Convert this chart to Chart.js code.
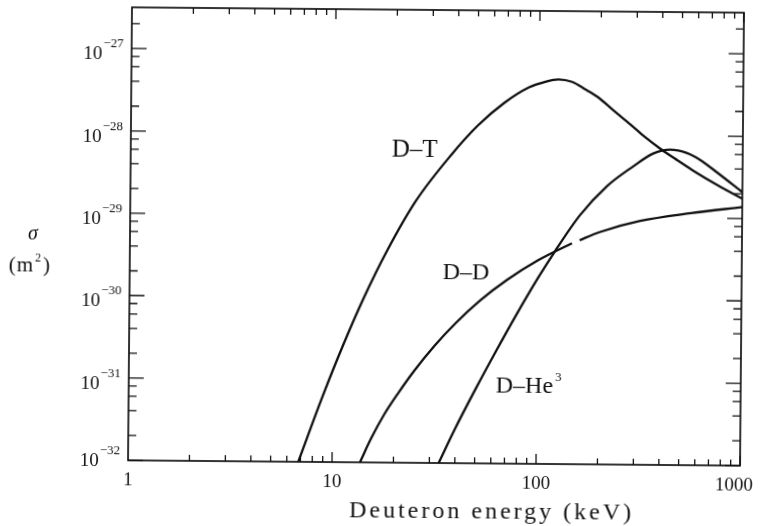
<!DOCTYPE html>
<html>
<head>
<meta charset="utf-8">
<script src="https://cdn.jsdelivr.net/npm/chart.js@4"></script>
<style>
  html, body { margin: 0; padding: 0; background: #fff; }
  /* the printed figure sits a touch off square */
  #wrap { width: 764px; height: 526px; transform: rotate(0.5deg); transform-origin: 436px 237px; }
</style>
</head>
<body>
<div id="wrap"><canvas id="c" width="764" height="526"></canvas></div>
<script>
// deuteron energy (keV) and cross-section (m^2)
const energyDT = [6.83, 8.91, 11.2, 14.1, 18.3, 25.1, 37.2, 50.1, 67.5, 89.1, 107, 124, 145, 166, 194, 234, 281, 331, 394, 479, 570, 759, 1000];
const sigmaDT = [1.0e-32, 6.17e-32, 2.63e-31, 1.0e-30, 3.8e-30, 1.51e-29, 5.5e-29, 1.26e-28, 2.4e-28, 3.72e-28, 4.37e-28, 4.68e-28, 4.37e-28, 3.63e-28, 2.88e-28, 1.95e-28, 1.35e-28, 9.55e-29, 6.92e-29, 5.01e-29, 3.8e-29, 2.51e-29, 1.74e-29];

const energyDD = [13.7, 15.5, 17.8, 20.9, 25.1, 31.6, 39.8, 52.5, 70.8, 100, 141, 147, 160, 200, 316, 562, 1000];
const sigmaDD = [1.0e-32, 1.95e-32, 3.72e-32, 6.92e-32, 1.32e-31, 2.69e-31, 5.01e-31, 9.55e-31, 1.7e-30, 2.95e-30, 4.57e-30, 4.79e-30, 5.25e-30, 6.61e-30, 9.12e-30, 1.15e-29, 1.38e-29];
const gapDD = 11; // short break in the D-D line just past the crossing

const energyDHe3 = [33.3, 39.8, 50.1, 63.1, 79.4, 100, 121, 160, 217, 290, 364, 441, 533, 617, 747, 1000];
const sigmaDHe3 = [1.0e-32, 2.57e-32, 7.94e-32, 2.34e-31, 6.61e-31, 1.78e-30, 3.8e-30, 1.05e-29, 2.4e-29, 4.17e-29, 6.03e-29, 6.76e-29, 6.17e-29, 5.13e-29, 3.63e-29, 2.09e-29];

const xTickValues = [1, 10, 100, 1000];
const xTickLabels = ["1", "10", "100", "1000"];
const yExponents = [-32, -31, -30, -29, -28, -27];

const INK = "#111";
const SERIF = '"Liberation Serif", "DejaVu Serif", serif';

const pts = (xs, ys) => xs.map((x, i) => ({ x, y: ys[i] }));
const line = (data, extra = {}) => ({
  data, borderColor: INK, borderWidth: 2.3, pointRadius: 0,
  cubicInterpolationMode: "monotone", fill: false, ...extra,
});

// frame, inward ticks and all the typeset text
const paper = {
  id: "paper",
  afterDatasetsDraw(chart) {
    const { ctx, chartArea: a, scales: { x, y } } = chart;
    ctx.save();
    ctx.strokeStyle = INK;
    ctx.fillStyle = INK;
    ctx.lineWidth = 1.7;
    ctx.strokeRect(a.left, a.top, a.right - a.left, a.bottom - a.top);

    ctx.lineWidth = 1.3;
    ctx.beginPath();
    for (const e of yExponents) {
      for (let m = 1; m < 10; m += m === 1 ? 1 : 2) {
        const v = m * 10 ** e;
        if (v > y.max) break;
        const py = y.getPixelForValue(v);
        const len = m === 1 ? 15 : 8;
        ctx.moveTo(a.left, py); ctx.lineTo(a.left + len, py);
        ctx.moveTo(a.right, py); ctx.lineTo(a.right - len, py);
      }
    }
    for (let d = 0; d < 3; d++) {
      for (let m = 2; m <= 10; m++) {
        const px = x.getPixelForValue(m * 10 ** d);
        const len = m === 10 ? 10 : 6;
        ctx.moveTo(px, a.bottom); ctx.lineTo(px, a.bottom - len);
        ctx.moveTo(px, a.top); ctx.lineTo(px, a.top + len);
      }
    }
    ctx.stroke();

    // y tick labels: 10 with a raised exponent
    ctx.textBaseline = "alphabetic";
    ctx.textAlign = "left";
    for (const e of yExponents) {
      const py = y.getPixelForValue(10 ** e);
      const base = e === -32 ? py + 6 : py + 11;
      const sup = "\u2212" + String(-e);
      ctx.font = `13px ${SERIF}`;
      const sw = ctx.measureText(sup).width;
      ctx.font = `19px ${SERIF}`;
      const bw = ctx.measureText("10").width;
      const right = a.left - 8;
      ctx.fillText("10", right - sw - bw - 1, base);
      ctx.font = `13px ${SERIF}`;
      ctx.fillText(sup, right - sw, base - 12);
    }

    // x tick labels
    ctx.font = `19px ${SERIF}`;
    ctx.textAlign = "center";
    xTickValues.forEach((v, i) => {
      const px = x.getPixelForValue(v) - (v === 1000 ? 6 : 0);
      ctx.fillText(xTickLabels[i], px, a.bottom + 25);
    });

    // axis titles
    ctx.font = `24px ${SERIF}`;
    ctx.letterSpacing = "3px";
    ctx.fillText("Deuteron energy (keV)", 494, 518);
    ctx.letterSpacing = "0px";

    ctx.font = `italic 20px ${SERIF}`;
    ctx.fillText("\u03c3", 33, 243);
    ctx.font = `21px ${SERIF}`;
    ctx.textAlign = "left";
    ctx.letterSpacing = "1px";
    ctx.fillText("(m", 9, 275);
    const mw = ctx.measureText("(m").width;
    ctx.font = `12px ${SERIF}`;
    ctx.fillText("2", 9 + mw + 1, 265);
    ctx.font = `21px ${SERIF}`;
    ctx.fillText(")", 9 + mw + 9, 275);
    ctx.letterSpacing = "0px";

    // curve names
    ctx.font = `25px ${SERIF}`;
    ctx.fillText("D\u2013T", 391, 157);
    ctx.font = `24px ${SERIF}`;
    ctx.fillText("D\u2013D", 443, 279);
    ctx.fillText("D\u2013He", 497, 392);
    const hw = ctx.measureText("D\u2013He").width;
    ctx.font = `13px ${SERIF}`;
    ctx.fillText("3", 497 + hw + 2, 380);
    ctx.restore();
  },
};

new Chart(document.getElementById("c"), {
  type: "line",
  data: {
    datasets: [
      line(pts(energyDT, sigmaDT)),
      line(pts(energyDD, sigmaDD), {
        segment: { borderColor: (s) => (s.p0DataIndex === gapDD ? "rgba(0,0,0,0)" : INK) },
      }),
      line(pts(energyDHe3, sigmaDHe3)),
    ],
  },
  options: {
    responsive: false,
    animation: false,
    devicePixelRatio: 1,
    layout: { padding: { left: 130, right: 22, top: 10, bottom: 63 } },
    plugins: { legend: { display: false }, tooltip: { enabled: false } },
    scales: {
      x: { type: "logarithmic", min: 1, max: 1000, display: false },
      y: { type: "logarithmic", min: 1e-32, max: 10 ** -26.5, display: false },
    },
  },
  plugins: [paper],
});
</script>
</body>
</html>
